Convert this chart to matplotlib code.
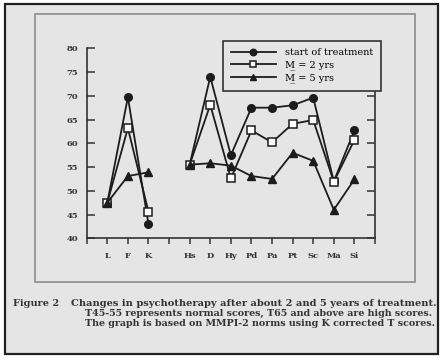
import matplotlib
matplotlib.use('Agg')
import matplotlib.pyplot as plt
from matplotlib.patches import Rectangle
import numpy as np

# MMPI-2 scales (blank slot between validity and clinical scales)
scales = ['L', 'F', 'K', '', 'Hs', 'D', 'Hy', 'Pd', 'Pa', 'Pt', 'Sc', 'Ma', 'Si']
start = [47.5, 69.7, 43.0, np.nan, 55.5, 74.0, 57.5, 67.5, 67.5, 68.0, 69.6, 52.0, 62.7]
two_yrs = [47.5, 63.2, 45.6, np.nan, 55.5, 68.1, 52.6, 62.7, 60.2, 64.1, 64.9, 51.9, 60.7]
five_yrs = [47.5, 53.1, 53.9, np.nan, 55.5, 55.8, 55.3, 53.1, 52.5, 58.0, 56.3, 46.0, 52.4]
series_labels = ['start of treatment', 'M\u0332 = 2 yrs', 'M\u0332 = 5 yrs']
y_ticks = [40, 45, 50, 55, 60, 65, 70, 75, 80]
caption = ['Changes in psychotherapy after about 2 and 5 years of treatment.',
           'T45-55 represents normal scores, T65 and above are high scores.',
           'The graph is based on MMPI-2 norms using K corrected T scores.']

W, H = 445, 361
bg = '#e5e5e5'
ink = '#1c1c1c'
serif = ['DejaVu Serif']

fig = plt.figure(figsize=(W / 100, H / 100), dpi=100)
fig.patch.set_facecolor('white')

def px(x, y):  # pixel (from top-left) -> figure fraction
    return x / W, 1 - y / H

# scanned page: dark border, gray paper, thin inner frame
fig.patches.append(Rectangle(px(5, 354), 433 / W, 350 / H, transform=fig.transFigure,
                             facecolor=bg, edgecolor='#202020', lw=1.6, zorder=-2))
fig.patches.append(Rectangle(px(35, 282), 380 / W, 268 / H, transform=fig.transFigure,
                             facecolor='none', edgecolor='#8c8c8c', lw=1.2, zorder=-1))

left, top = px(86.7, 48.3)
right, bottom = px(375, 238.3)
ax = fig.add_axes([left, bottom, right - left, top - bottom])
ax.set_facecolor('none')
ax.set_zorder(2)

x = np.arange(len(scales))
ax.plot(x, start, color=ink, lw=1.3, marker='o', ms=5.5, mfc=ink, mec=ink,
        label=series_labels[0], zorder=3)
ax.plot(x, two_yrs, color=ink, lw=1.3, marker='s', ms=5.5, mfc='white', mec=ink,
        mew=1.1, label=series_labels[1], zorder=4)
ax.plot(x, five_yrs, color=ink, lw=1.3, marker='^', ms=5.5, mfc=ink, mec=ink,
        label=series_labels[2], zorder=5)

ax.set_xlim(-1, 13)
ax.set_ylim(40, 80)
ax.set_xticks(np.arange(-1, 14))
ax.set_xticklabels([''] + scales + [''], fontsize=6, family=serif, color='#333333',
                   weight='bold')
ax.set_yticks(y_ticks)
ax.set_yticklabels([str(v) for v in y_ticks], fontsize=6, family=serif, color='#333333',
                   weight='bold')
ax.tick_params(axis='y', direction='in', length=6, width=1.1, color='#333333',
               right=True, pad=6)
ax.tick_params(axis='x', direction='out', length=4, width=1.1, color='#333333', pad=6)
ax.spines['top'].set_visible(False)
for s in ['left', 'right', 'bottom']:
    ax.spines[s].set_linewidth(1.2)
    ax.spines[s].set_color('#333333')

leg = ax.legend(loc='upper left', bbox_to_anchor=px(223, 40.7),
                bbox_transform=fig.transFigure, borderaxespad=0,
                prop={'family': serif, 'size': 7}, frameon=True, fancybox=False,
                handlelength=4.6, handletextpad=1.0, labelspacing=0.33,
                borderpad=0.8, framealpha=1, markerscale=0.85)
leg.get_frame().set_facecolor(bg)
leg.get_frame().set_edgecolor('#333333')
leg.get_frame().set_linewidth(1.2)
leg.set_zorder(10)

cap_style = dict(family=serif, weight='bold', color='#333333', va='center')
fig.text(*px(13, 303), 'Figure 2', fontsize=7, **cap_style)
fig.text(*px(71, 303), caption[0], fontsize=7.1, **cap_style)
fig.text(*px(85, 313.5), caption[1], fontsize=6.88, **cap_style)
fig.text(*px(85, 324), caption[2], fontsize=6.88, **cap_style)

fig.savefig('out.png', dpi=100)
